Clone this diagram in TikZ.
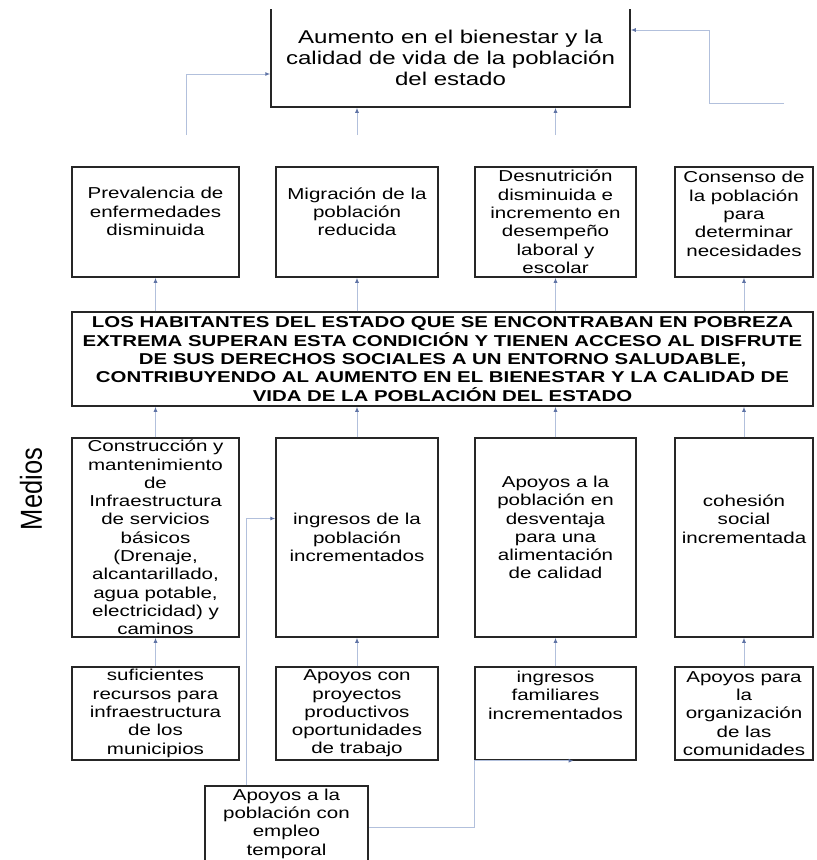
\documentclass[tikz,border=0pt]{standalone}
\usepackage{fontspec}
\usepackage{graphicx}
\setmainfont{Liberation Sans}[FakeStretch=1.3]
\newfontfamily\medfont{Liberation Sans}
\usetikzlibrary{arrows.meta}
\definecolor{linea}{RGB}{178,192,220}
\definecolor{punta}{RGB}{95,115,165}
\tikzset{
  caja/.style={
    % The shape:
    shape=rectangle,
    % The border:
    draw=black!85, line width=1.5pt,
    % The text:
    align=center, inner sep=0pt,
    font=\fontsize{15.8}{18.3}\selectfont
  },
  conector/.style={draw=linea, line width=1pt,
    -{Latex[length=5pt,width=4pt,color=punta]}}
}

\begin{document}
\begin{tikzpicture}[x=1pt,y=-1pt]
	\useasboundingbox (0,0) rectangle (817,860);
	\clip (0,9.5) rectangle (817,860);
	% fin
	\node[caja, minimum width=359, minimum height=99,
	  font=\fontsize{18.5}{21}\selectfont] (obj) at (450.5,57.5)
	  {Aumento en el bienestar y la\\calidad de vida de la población\\del estado};
	% efectos
	\node[caja, minimum width=167, minimum height=110] (efec1) at (155.5,222) {Prevalencia de\\enfermedades\\disminuida\\[2.7pt]};
	\node[caja, minimum width=162, minimum height=110] (efec2) at (357,222) {Migración de la\\población\\reducida\\[2.7pt]};
	\node[caja, minimum width=161, minimum height=110] (efec3) at (555.5,222) {Desnutrición\\disminuida e\\incremento en\\desempeño\\laboral y\\escolar};
	\node[caja, minimum width=138, minimum height=110] (efec4) at (744,222) {Consenso de\\la población\\para\\determinar\\necesidades\\[-2pt]};
	% proposito
	\node[caja, minimum width=741, minimum height=94,
	  font=\bfseries\fontsize{15.7}{18.3}\selectfont] (prop) at (442.5,359)
	  {LOS HABITANTES DEL ESTADO QUE SE ENCONTRABAN EN POBREZA\\EXTREMA SUPERAN ESTA CONDICIÓN Y TIENEN ACCESO AL DISFRUTE\\DE SUS DERECHOS SOCIALES A UN ENTORNO SALUDABLE,\\CONTRIBUYENDO AL AUMENTO EN EL BIENESTAR Y LA CALIDAD DE\\VIDA DE LA POBLACIÓN DEL ESTADO};
	% medios
	\node[font=\medfont, rotate=90, inner sep=0pt] (medios) at (31,489) {\resizebox{82pt}{22pt}{Medios}};
	\node[caja, minimum width=167, minimum height=199] (med1) at (155.5,537.5) {Construcción y\\mantenimiento\\de\\Infraestructura\\de servicios\\básicos\\(Drenaje,\\alcantarillado,\\agua potable,\\electricidad) y\\caminos};
	\node[caja, minimum width=162, minimum height=199] (med2) at (357,537.5) {ingresos de la\\población\\incrementados};
	\node[caja, minimum width=161, minimum height=199] (med3) at (555.5,537.5) {Apoyos a la\\población en\\desventaja\\para una\\alimentación\\de calidad\\[1.7pt]};
	\node[caja, minimum width=138, minimum height=199] (med4) at (744,537.5) {cohesión\\social\\incrementada\\[18.7pt]};
	% recursos
	\node[caja, minimum width=167, minimum height=93] (rec1) at (155.5,713.5) {suficientes\\recursos para\\infraestructura\\de los\\municipios};
	\node[caja, minimum width=162, minimum height=93] (rec2) at (357,713.5) {Apoyos con\\proyectos\\productivos\\oportunidades\\de trabajo};
	\node[caja, minimum width=161, minimum height=93] (rec3) at (555.5,713.5) {ingresos\\familiares\\incrementados\\[18.7pt]};
	\node[caja, minimum width=138, minimum height=93] (rec4) at (744,713.5) {Apoyos para\\la\\organización\\de las\\comunidades};
	\node[caja, minimum width=163, minimum height=75] (empleo) at (286.5,823.5) {Apoyos a la\\población con\\empleo\\temporal};
	% conectores
	\foreach \i in {1,2,3,4}{
		\draw[conector] (rec\i.north) -- (med\i.south);
		\draw[conector] (med\i.north) -- (med\i.north |- prop.south);
		\draw[conector] (efec\i.south |- prop.north) -- (efec\i.south);
	}
	\coordinate (b1) at (186,135);
	\coordinate (b2) at (357,135);
	\coordinate (b3) at (555.5,135);
	\coordinate (b4) at (784,103);
	\draw[conector] (b1) |- ([yshift=-16.5pt]obj.west);
	\draw[conector] (b2) -- (b2 |- obj.south);
	\draw[conector] (b3) -- (b3 |- obj.south);
	\draw[conector] (b4) -- ++(-75,0) |- ([yshift=27.5pt]obj.east);
	\draw[conector] ([xshift=-40.5pt]empleo.north) |- ([yshift=19pt]med2.west);
	\draw[conector] ([yshift=-3.5pt]empleo.east) -| (rec3.south west) -- ([xshift=18pt]rec3.south);
\end{tikzpicture}
\end{document}
